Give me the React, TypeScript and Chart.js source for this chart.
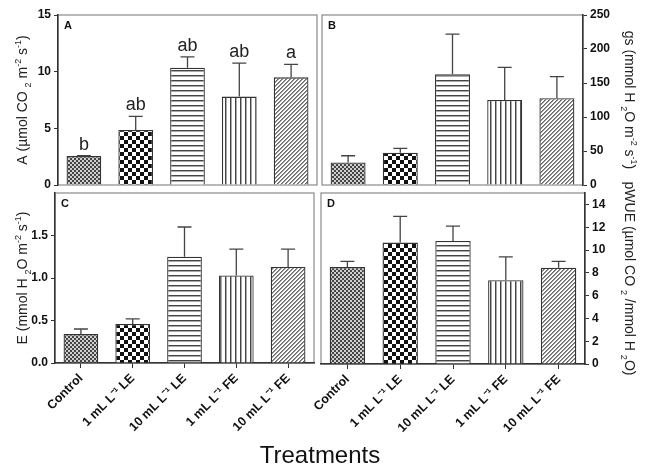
import React, { useEffect, useRef } from 'react';
import { Chart, registerables } from 'chart.js';

Chart.register(...registerables);

const FONT = '"Liberation Sans", Arial, Helvetica, sans-serif';
const W = 648;
const H = 469;

// ---------- data ----------
const categories = ['Control', '1 mL L\u207B\u00B9 LE', '10 mL L\u207B\u00B9 LE', '1 mL L\u207B\u00B9 FE', '10 mL L\u207B\u00B9 FE'];

const aMeans = [2.55, 4.85, 10.35, 7.8, 9.5];
const aErrors = [0.05, 1.2, 0.95, 2.95, 1.15];
const aLetters = ['b', 'ab', 'ab', 'ab', 'a'];

const gsMeans = [33, 47.5, 163, 125, 127.5];
const gsErrors = [10, 6.5, 59, 48, 32];

const eMeans = [0.34, 0.46, 1.25, 1.03, 1.13];
const eErrors = [0.06, 0.06, 0.35, 0.31, 0.21];

const wueMeans = [8.5, 10.65, 10.8, 7.35, 8.45];
const wueErrors = [0.5, 2.3, 1.3, 2.05, 0.55];

const aTicks = [0, 5, 10, 15];
const gsTicks = [0, 50, 100, 150, 200, 250];
const eTicks = [0, 0.5, 1.0, 1.5];
const wueTicks = [0, 2, 4, 6, 8, 10, 12, 14];

type Seg = { t: string; k?: 'sub' | 'sup' };

const aTitle: Seg[] = [{ t: 'A (\u00B5mol CO ' }, { t: '2', k: 'sub' }, { t: ' m' }, { t: '-2', k: 'sup' }, { t: ' s' }, { t: '-1', k: 'sup' }, { t: ')' }];
const gsTitle: Seg[] = [{ t: 'gs (mmol H ' }, { t: '2', k: 'sub' }, { t: 'O m' }, { t: '-2', k: 'sup' }, { t: ' s' }, { t: '-1', k: 'sup' }, { t: ')' }];
const eTitle: Seg[] = [{ t: 'E (mmol H ' }, { t: '2', k: 'sub' }, { t: 'O m' }, { t: '-2', k: 'sup' }, { t: ' s' }, { t: '-1', k: 'sup' }, { t: ')' }];
const wueTitle: Seg[] = [{ t: 'pWUE (\u00B5mol CO ' }, { t: '2', k: 'sub' }, { t: ' /mmol H ' }, { t: '2', k: 'sub' }, { t: 'O)' }];

// ---------- helpers ----------
function drawRich(ctx: CanvasRenderingContext2D, segs: Seg[], cx: number, cy: number, rot: number, size: number) {
  ctx.save();
  ctx.translate(cx, cy);
  ctx.rotate(rot);
  const small = Math.round(size * 0.66);
  const widths = segs.map((s) => {
    ctx.font = `${s.k ? small : size}px ${FONT}`;
    return ctx.measureText(s.t).width;
  });
  const total = widths.reduce((a, b) => a + b, 0);
  let x = -total / 2;
  ctx.textAlign = 'left';
  ctx.textBaseline = 'alphabetic';
  ctx.fillStyle = '#222';
  const base = size * 0.36;
  segs.forEach((s, i) => {
    ctx.font = `${s.k ? small : size}px ${FONT}`;
    const dy = s.k === 'sub' ? size * 0.3 : s.k === 'sup' ? -size * 0.42 : 0;
    ctx.fillText(s.t, x, base + dy);
    x += widths[i];
  });
  ctx.restore();
}

function makePatterns(ctx: CanvasRenderingContext2D): CanvasPattern[] {
  const tile = (w: number, h: number, draw: (c: CanvasRenderingContext2D) => void) => {
    const cv = document.createElement('canvas');
    cv.width = w;
    cv.height = h;
    const c = cv.getContext('2d')!;
    c.fillStyle = '#fff';
    c.fillRect(0, 0, w, h);
    draw(c);
    return ctx.createPattern(cv, 'repeat')!;
  };
  // fine checker
  const p1 = tile(4, 4, (c) => {
    c.fillStyle = '#cfcfcf';
    c.fillRect(0, 0, 4, 4);
    c.fillStyle = '#444';
    c.fillRect(0, 0, 2, 2);
    c.fillRect(2, 2, 2, 2);
  });
  // coarse checker
  const p2 = tile(8, 8, (c) => {
    c.fillStyle = '#111';
    c.fillRect(0, 0, 4, 4);
    c.fillRect(4, 4, 4, 4);
  });
  // horizontal lines
  const p3 = tile(2, 5, (c) => {
    c.fillStyle = '#444';
    c.fillRect(0, 0, 2, 1);
    c.fillStyle = '#aaa';
    c.fillRect(0, 1, 2, 1);
  });
  // vertical lines
  const p4 = tile(5, 2, (c) => {
    c.fillStyle = '#444';
    c.fillRect(0, 0, 1, 2);
    c.fillStyle = '#aaa';
    c.fillRect(1, 0, 1, 2);
  });
  // diagonal lines "/"
  const p5 = tile(4, 4, (c) => {
    for (let y = 0; y < 4; y++) {
      for (let x = 0; x < 4; x++) {
        const m = (x + y) % 4;
        if (m === 0) {
          c.fillStyle = '#666';
          c.fillRect(x, y, 1, 1);
        } else if (m === 1) {
          c.fillStyle = '#999';
          c.fillRect(x, y, 1, 1);
        }
      }
    }
  });
  return [p1, p2, p3, p4, p5];
}

type PanelDef = {
  means: number[];
  errors: number[];
  letters?: string[];
  panelLetter: string;
  ticks: number[];
  max: number;
  decimals: number;
  axisPos: 'left' | 'right';
  padding: { left: number; top: number; right: number; bottom: number };
  yWidth: number;
  showX: boolean;
  xHeight: number;
  title: Seg[];
  titleX: number;
};

const panels: PanelDef[] = [
  {
    means: aMeans, errors: aErrors, letters: aLetters, panelLetter: 'A', ticks: aTicks, max: 15, decimals: 0,
    axisPos: 'left', padding: { left: 0, top: 15, right: 331, bottom: 284 }, yWidth: 58, showX: false, xHeight: 0,
    title: aTitle, titleX: 22,
  },
  {
    means: gsMeans, errors: gsErrors, panelLetter: 'B', ticks: gsTicks, max: 250, decimals: 0,
    axisPos: 'right', padding: { left: 322, top: 15, right: 0, bottom: 284 }, yWidth: 65, showX: false, xHeight: 0,
    title: gsTitle, titleX: 630,
  },
  {
    means: eMeans, errors: eErrors, panelLetter: 'C', ticks: eTicks, max: 2, decimals: 1,
    axisPos: 'left', padding: { left: 0, top: 193, right: 334, bottom: 0 }, yWidth: 55, showX: true, xHeight: 106,
    title: eTitle, titleX: 22,
  },
  {
    means: wueMeans, errors: wueErrors, panelLetter: 'D', ticks: wueTicks, max: 15, decimals: 0,
    axisPos: 'right', padding: { left: 321, top: 193, right: 0, bottom: 0 }, yWidth: 63, showX: true, xHeight: 105,
    title: wueTitle, titleX: 630,
  },
];

function buildChart(canvas: HTMLCanvasElement, p: PanelDef): Chart {
  const ctx = canvas.getContext('2d')!;
  const patterns = makePatterns(ctx);
  const tickSet = p.ticks;

  const panelPlugin = {
    id: 'panelDecor' + p.panelLetter,
    beforeDraw(chart: any) {
      const { left, right, top, bottom } = chart.chartArea;
      const c = chart.ctx;
      c.save();
      c.strokeStyle = '#8a8a8a';
      c.lineWidth = 1.2;
      c.strokeRect(left, top, right - left, bottom - top);
      c.restore();
    },
    afterDatasetsDraw(chart: any) {
      const c = chart.ctx;
      const meta = chart.getDatasetMeta(0);
      const ys = chart.scales.y;
      c.save();
      c.strokeStyle = '#444';
      c.lineWidth = 1.3;
      meta.data.forEach((el: any, i: number) => {
        const top = ys.getPixelForValue(p.means[i] + p.errors[i]);
        const barTop = el.y;
        c.beginPath();
        c.moveTo(el.x, barTop);
        c.lineTo(el.x, top);
        c.moveTo(el.x - 7, top);
        c.lineTo(el.x + 7, top);
        c.stroke();
        if (p.letters) {
          c.fillStyle = '#222';
          c.font = `18px ${FONT}`;
          c.textAlign = 'center';
          c.textBaseline = 'bottom';
          c.fillText(p.letters[i], el.x, top - 2);
        }
      });
      // panel letter
      const { left, top } = chart.chartArea;
      c.fillStyle = '#111';
      c.font = `bold 11px ${FONT}`;
      c.textAlign = 'left';
      c.textBaseline = 'top';
      c.fillText(p.panelLetter, left + 6, top + 5);
      // axis title
      const cy = (chart.chartArea.top + chart.chartArea.bottom) / 2;
      drawRich(c, p.title, p.titleX, cy, p.axisPos === 'left' ? -Math.PI / 2 : Math.PI / 2, 14);
      c.restore();
    },
  };

  return new Chart(canvas, {
    type: 'bar',
    data: {
      labels: categories,
      datasets: [
        {
          data: p.means,
          backgroundColor: patterns as any,
          borderColor: '#333',
          borderWidth: 1.3,
          barPercentage: 0.67,
          categoryPercentage: 1,
        },
      ],
    },
    options: {
      animation: false,
      responsive: false,
      maintainAspectRatio: false,
      layout: { padding: p.padding },
      plugins: { legend: { display: false }, tooltip: { enabled: false } },
      scales: {
        x: {
          display: p.showX,
          grid: { drawOnChartArea: false, drawTicks: true, tickLength: 5, color: '#333', offset: false },
          border: { color: '#333', width: 1.5 },
          ticks: {
            autoSkip: false,
            maxRotation: 45,
            minRotation: 45,
            padding: 3,
            color: '#111',
            font: { family: FONT, size: 12.5, weight: 'bold' },
          },
          afterFit: (s: any) => {
            if (p.showX) s.height = p.xHeight;
          },
        },
        y: {
          position: p.axisPos,
          min: 0,
          max: p.max,
          grid: { drawOnChartArea: false, drawTicks: true, tickLength: 4, color: '#333' },
          border: { color: '#333', width: 1.5 },
          ticks: {
            color: '#111',
            padding: 3,
            font: { family: FONT, size: 12, weight: 'bold' },
            callback: (v: any) => Number(v).toFixed(p.decimals),
          },
          afterBuildTicks: (s: any) => {
            s.ticks = tickSet.map((v) => ({ value: v }));
          },
          afterFit: (s: any) => {
            s.width = p.yWidth;
          },
        },
      },
    } as any,
    plugins: [panelPlugin as any],
  });
}

function Panel({ def }: { def: PanelDef }) {
  const ref = useRef<HTMLCanvasElement>(null);
  useEffect(() => {
    if (!ref.current) return;
    const chart = buildChart(ref.current, def);
    return () => chart.destroy();
  }, [def]);
  return (
    <canvas
      ref={ref}
      width={W}
      height={H}
      style={{ position: 'absolute', left: 0, top: 0, width: W, height: H }}
    />
  );
}

export default function App() {
  return (
    <div style={{ position: 'absolute', left: 0, top: 0, width: W, height: H, background: '#fff', overflow: 'hidden' }}>
      {panels.map((p) => (
        <Panel key={p.panelLetter} def={p} />
      ))}
      <div
        style={{
          position: 'absolute',
          left: 0,
          width: 640,
          top: 443,
          textAlign: 'center',
          fontFamily: FONT,
          fontSize: 24,
          lineHeight: '24px',
          color: '#111',
        }}
      >
        Treatments
      </div>
    </div>
  );
}
